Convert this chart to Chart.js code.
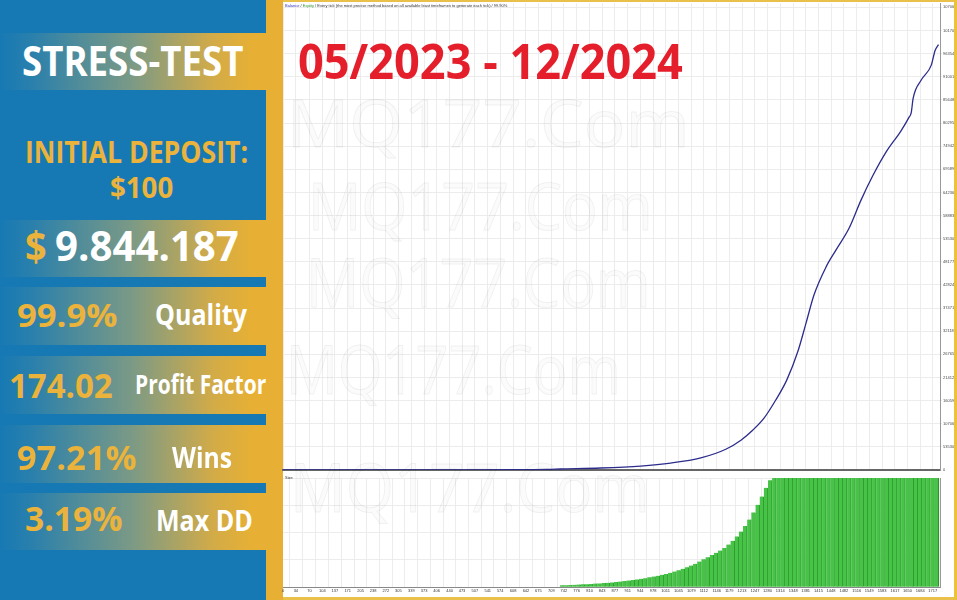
<!DOCTYPE html>
<html>
<head>
<meta charset="utf-8">
<script src="https://cdn.jsdelivr.net/npm/chart.js@4.4.1/dist/chart.umd.min.js"></script>
<style>
html, body { margin: 0; padding: 0; }
body { width: 957px; height: 600px; position: relative; overflow: hidden; background: #fff; font-family: "Open Sans", sans-serif; }
.blk { position: absolute; }
#side { left: 0; top: 0; width: 266px; height: 600px; background: #1779b4; }
#goldL { left: 266px; top: 0; width: 17px; height: 600px; background: #e7b034; }
#goldR { left: 954px; top: 0; width: 3px; height: 600px; background: #ecc23a; }
#goldT { left: 283px; top: 0; width: 674px; height: 2px; background: #e9c04a; }
#goldB { left: 283px; top: 597px; width: 674px; height: 3px; background: #e9c04a; }
.band { position: absolute; left: 0; width: 266px; background: linear-gradient(to right, #1779b4 0%, #2a80ac 12%, #7c9a85 50%, #d2ab48 80%, #e7b034 95%); }
.txt { position: absolute; white-space: nowrap; font-weight: 700; line-height: 1; transform-origin: 0 0; }
.wm { position: absolute; white-space: nowrap; font-weight: 400; line-height: 1; transform-origin: 0 0; color: rgba(0,0,0,0.015); -webkit-text-stroke: 1px rgba(0,0,0,0.06); pointer-events: none; }
canvas { position: absolute; }
#hdr { position: absolute; left: 285px; top: 3px; font: 4px "Liberation Sans", sans-serif; color: #333; white-space: nowrap; }
#sizeLbl { position: absolute; left: 285px; top: 475px; font: 4px "Liberation Sans", sans-serif; color: #333; }
</style>
</head>
<body>
<div id="side" class="blk"></div>
<div class="band" style="top:33px;height:57px"></div>
<div class="band" style="top:220px;height:57px"></div>
<div class="band" style="top:287px;height:58px"></div>
<div class="band" style="top:356px;height:58px"></div>
<div class="band" style="top:425px;height:58px"></div>
<div class="band" style="top:493px;height:57px"></div>
<div id="goldL" class="blk"></div>

<canvas id="topChart" width="679" height="474" style="left:278px;top:0"></canvas>
<canvas id="sizeChart" width="679" height="128" style="left:278px;top:472px"></canvas>

<div id="hdr"><span style="color:#3434c4">Balance</span> / <span style="color:#2ea02e">Equity</span> / Every tick (the most precise method based on all available least timeframes to generate each tick) / 99.90%</div>
<div id="sizeLbl">Size</div>

<div id="goldT" class="blk"></div>
<div id="goldB" class="blk"></div>
<div id="goldR" class="blk"></div>

<script>
// axis labels as printed by the tester
const xTickLabels = [0, 34, 70, 104, 137, 171, 205, 238, 272, 305, 339, 373, 406, 440, 473, 507, 541, 574,
  608, 642, 675, 709, 742, 776, 810, 843, 877, 911, 944, 978, 1011, 1045, 1079, 1112, 1146, 1179, 1213,
  1247, 1280, 1314, 1348, 1381, 1415, 1448, 1482, 1516, 1549, 1583, 1617, 1650, 1684, 1717];
const yTickLabels = [0, 535302, 1070603, 1605905, 2141207, 2676508, 3211810, 3747112, 4282413, 4817715,
  5353016, 5888318, 6423620, 6958922, 7494223, 8029525, 8564826, 9100128, 9635430, 10170731, 10706033];

// balance curve (trade number -> balance)
const balanceTrades = [0, 100, 200, 300, 400, 500, 600, 700, 733, 839, 945, 1024, 1104, 1170, 1210, 1241,
  1271, 1302, 1331, 1361, 1382, 1403, 1435, 1461, 1496, 1527, 1559, 1593, 1633, 1654, 1660, 1665, 1686,
  1713, 1723, 1732];
const balanceValues = [100, 190, 350, 700, 1400, 2900, 6000, 14000, 23000, 46000, 92000, 160000, 280000,
  480000, 690000, 920000, 1200000, 1620000, 2080000, 2760000, 3400000, 4050000, 4700000, 5090000, 5600000,
  6240000, 6820000, 7350000, 7850000, 8160000, 8270000, 8600000, 9020000, 9370000, 9710000, 9844187];

// lot size bars, one every sizeStep trades starting at sizeFirstTrade
const sizeFirstTrade = 737;
const sizeStep = 11;
const sizeLots = [1.7, 1.9, 2.0, 2.2, 2.4, 2.6, 2.8, 3.0, 3.3, 3.5, 3.8, 4.1, 4.4, 4.8, 5.2, 5.6, 6.1, 6.6,
  7.1, 7.7, 8.3, 9.0, 9.7, 10.5, 11.3, 12.2, 13.2, 14.3, 15.5, 16.8, 18.2, 19.8, 21.5, 23.5, 25.5, 27.5,
  29.5, 31.5, 33.5, 36, 39, 42.5, 46.5, 51, 56, 62, 68.5, 75.5, 83, 91, 98,
  100, 100, 100, 100, 100, 100, 100, 100, 100, 100, 100, 100, 100, 100, 100, 100, 100, 100, 100, 100,
  100, 100, 100, 100, 100, 100, 100, 100, 100, 100, 100, 100, 100, 100, 100, 100, 100, 100, 100, 100];

// left panel
const sideTexts = [
  { t: "STRESS-TEST", x: 22, cap: 48, h: 29, w: 221, c: "#ffffff" },
  { t: "INITIAL DEPOSIT:", x: 25, cap: 142, h: 21.5, w: 223, c: "#ebb33c" },
  { t: "$100", x: 110, cap: 178, h: 21, w: 63, c: "#ebb33c" },
  { t: "$", x: 25, cap: 232, h: 29.5, w: 22, c: "#ebb33c" },
  { t: "9.844.187", x: 55, cap: 232, h: 29.5, w: 184, c: "#ffffff" },
  { t: "99.9%", x: 17, cap: 305, h: 23.5, w: 100, c: "#ebb33c" },
  { t: "Quality", x: 155, cap: 305, h: 21, w: 92, c: "#ffffff" },
  { t: "174.02", x: 9, cap: 375, h: 24, w: 104, c: "#ebb33c" },
  { t: "Profit Factor", x: 135, cap: 377, h: 18.5, w: 131, c: "#ffffff" },
  { t: "97.21%", x: 17, cap: 447, h: 24, w: 120, c: "#ebb33c" },
  { t: "Wins", x: 172, cap: 448, h: 20, w: 60, c: "#ffffff" },
  { t: "3.19%", x: 25, cap: 508, h: 24, w: 98, c: "#ebb33c" },
  { t: "Max DD", x: 156, cap: 511, h: 21, w: 97, c: "#ffffff" },
  { t: "05/2023 - 12/2024", x: 298, cap: 45, h: 35, w: 385, c: "#e41e2b" }
];
const marks = [
  { x: 287, cap: 100, h: 47, w: 403 },
  { x: 308, cap: 183, h: 47, w: 345 },
  { x: 306, cap: 260, h: 48, w: 345 },
  { x: 286, cap: 347, h: 48, w: 335 },
  { x: 290, cap: 465, h: 48, w: 360 }
];

function place(item, cls) {
  const el = document.createElement("div");
  el.className = cls;
  el.textContent = item.t;
  const fs = item.h / 0.714;
  el.style.fontSize = fs + "px";
  el.style.left = item.x + "px";
  el.style.top = (item.cap - 0.174 * fs) + "px";
  if (item.c) el.style.color = item.c;
  document.body.appendChild(el);
  const k = item.w / el.offsetWidth;
  el.style.transform = "scaleX(" + k + ")";
}
sideTexts.forEach(s => place(s, "txt"));
marks.forEach(m => place(Object.assign({ t: "MQ177.Com" }, m), "wm"));

const xMax = 1736;
const setXTicks = s => { s.ticks = xTickLabels.map(v => ({ value: v })); };
const fixWidth = s => { s.width = 17; };
const gridCol = "#ececec";
const tinyFont = { size: 4, family: "'Liberation Sans Narrow', 'Liberation Sans', sans-serif" };

new Chart(document.getElementById("topChart"), {
  type: "line",
  data: {
    datasets: [{
      label: "Balance",
      data: balanceTrades.map((t, i) => ({ x: t, y: balanceValues[i] })),
      borderColor: "#2c2c8c",
      borderWidth: 1.3,
      pointRadius: 0,
      cubicInterpolationMode: "monotone",
      fill: false
    }]
  },
  options: {
    animation: false,
    responsive: false,
    layout: { padding: { top: 3, bottom: 4, left: 5, right: 0 } },
    plugins: { legend: { display: false }, tooltip: { enabled: false } },
    scales: {
      x: {
        type: "linear", min: 0, max: xMax,
        afterBuildTicks: setXTicks,
        ticks: { display: false },
        grid: { color: gridCol, drawTicks: false },
        border: { color: "#666", width: 2 }
      },
      y: {
        position: "right", min: 0, max: 10798000,
        afterBuildTicks: s => { s.ticks = yTickLabels.map(v => ({ value: v })); },
        afterFit: fixWidth,
        ticks: { font: tinyFont, color: "#444", padding: 1, callback: v => String(v) },
        grid: { color: gridCol, tickLength: 2 },
        border: { color: "#999", width: 1 }
      }
    }
  }
});

new Chart(document.getElementById("sizeChart"), {
  type: "bar",
  data: {
    datasets: [{
      label: "Size",
      data: sizeLots.map((v, i) => ({ x: sizeFirstTrade + i * sizeStep, y: v })),
      backgroundColor: "#47c447",
      borderColor: "#2a952a",
      borderWidth: { left: 0, right: 1, top: 0, bottom: 0 },
      borderSkipped: false,
      barPercentage: 1,
      categoryPercentage: 1
    }]
  },
  options: {
    animation: false,
    responsive: false,
    layout: { padding: { top: 6, bottom: 6, left: 5, right: 0 } },
    plugins: { legend: { display: false }, tooltip: { enabled: false } },
    scales: {
      x: {
        type: "linear", min: 0, max: xMax, offset: false,
        afterBuildTicks: setXTicks,
        ticks: { font: tinyFont, color: "#333", padding: 1, autoSkip: false, maxRotation: 0, callback: v => String(v) },
        grid: { color: gridCol, tickLength: 0 },
        border: { color: "#888", width: 1 }
      },
      y: {
        position: "right", min: 0, max: 100,
        afterFit: fixWidth,
        ticks: { display: false, stepSize: 25 },
        grid: { color: gridCol, drawTicks: false },
        border: { color: "#999", width: 1 }
      }
    }
  }
});
</script>
</body>
</html>
